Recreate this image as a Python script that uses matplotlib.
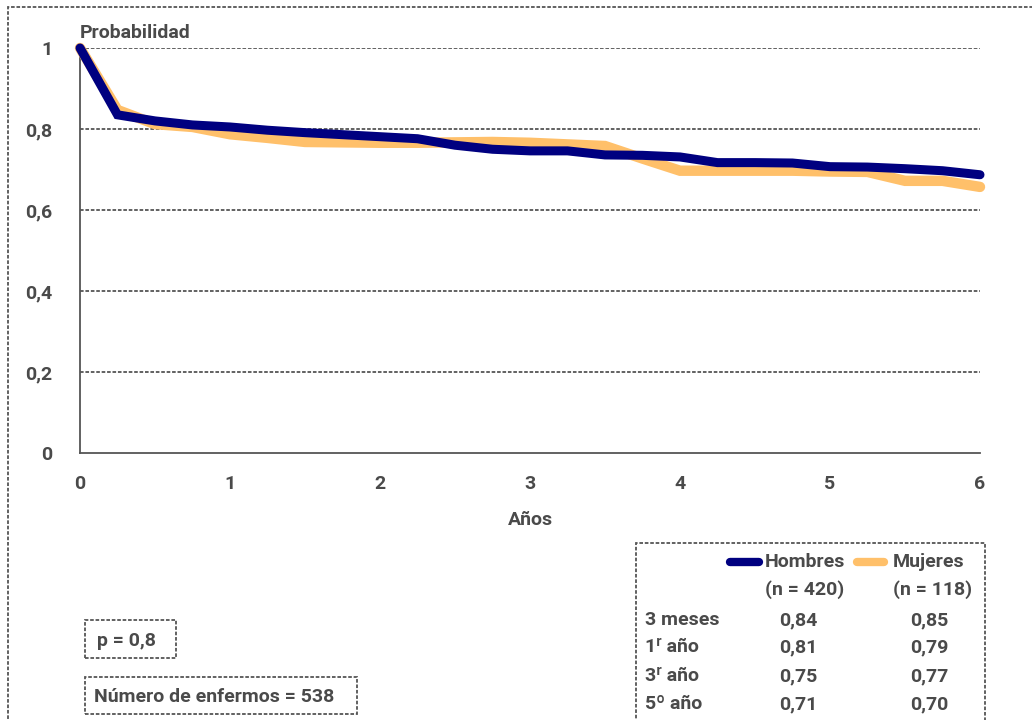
import matplotlib
matplotlib.use('Agg')
import matplotlib.pyplot as plt
from matplotlib.patches import Rectangle

# datos (cada trimestre)
anios = [0, 0.25, 0.5, 0.75, 1, 1.25, 1.5, 1.75, 2, 2.25, 2.5, 2.75, 3,
         3.25, 3.5, 3.75, 4, 4.25, 4.5, 4.75, 5, 5.25, 5.5, 5.75, 6]
hombres = [1.0, 0.835, 0.82, 0.81, 0.805, 0.797, 0.791, 0.786, 0.781, 0.776,
           0.76, 0.75, 0.746, 0.746, 0.736, 0.735, 0.731, 0.717, 0.717, 0.716,
           0.707, 0.706, 0.702, 0.697, 0.687]
mujeres = [1.0, 0.847, 0.812, 0.805, 0.787, 0.778, 0.768, 0.767, 0.766, 0.766,
           0.767, 0.768, 0.766, 0.762, 0.758, 0.727, 0.697, 0.697, 0.697, 0.697,
           0.695, 0.694, 0.672, 0.672, 0.657]

filas = ['3 meses', '1ʳ año', '3ʳ año', '5º año']
tabla_hombres = ['0,84', '0,81', '0,75', '0,71']
tabla_mujeres = ['0,85', '0,79', '0,77', '0,70']

y_ticks = [0, 0.2, 0.4, 0.6, 0.8, 1]
y_labels = ['0', '0,2', '0,4', '0,6', '0,8', '1']
x_ticks = [0, 1, 2, 3, 4, 5, 6]

NAVY = '#000080'
NARANJA = '#ffc06a'
GRIS = '#4a4a4a'
PUNTOS = (0, (2, 1))
FS = 14

plt.rcParams['font.family'] = ['Roboto', 'DejaVu Sans']
plt.rcParams['font.weight'] = 'bold'

W, H = 1032, 720
fig = plt.figure(figsize=(W / 100, H / 100), dpi=100)
fig.patch.set_facecolor('white')

# marco punteado de la figura
fig.patches.append(Rectangle((8 / W, -0.5), 2, 1.5 - 7 / H, transform=fig.transFigure,
                             fill=False, edgecolor='#555555', linewidth=1.3, linestyle=PUNTOS))

ax = fig.add_axes([80 / W, 1 - 453 / H, 900 / W, 405 / H])
ax.set_xlim(0, 6)
ax.set_ylim(0, 1)

for y in y_ticks[1:]:
    ax.axhline(y, color='#555555', linewidth=1.3, linestyle=PUNTOS, zorder=1)

ax.plot(anios, mujeres, color=NARANJA, linewidth=7.5, solid_capstyle='round',
        solid_joinstyle='miter', zorder=3, clip_on=False)
ax.plot(anios, hombres, color=NAVY, linewidth=6.5, solid_capstyle='round',
        solid_joinstyle='miter', zorder=4, clip_on=False)

for s in ['top', 'right']:
    ax.spines[s].set_visible(False)
for s in ['left', 'bottom']:
    ax.spines[s].set_linestyle(PUNTOS)
    ax.spines[s].set_color('#555555')
    ax.spines[s].set_linewidth(1.3)

ax.set_yticks(y_ticks)
ax.set_yticklabels(y_labels)
ax.set_xticks(x_ticks)
ax.tick_params(length=0, labelsize=FS, colors=GRIS)
ax.tick_params(axis='y', pad=20)
ax.tick_params(axis='x', pad=16)

fig.text(80 / W, 1 - 33 / H, 'Probabilidad', fontsize=FS, color=GRIS, va='center', ha='left')
fig.text(530 / W, 1 - 520 / H, 'Años', fontsize=FS, color=GRIS, va='center', ha='center')

# cuadro con la tabla y la leyenda
fig.patches.append(Rectangle((636 / W, -0.2), 349 / W, 0.2 + 177 / H, transform=fig.transFigure,
                             fill=False, edgecolor='#555555', linewidth=1.3, linestyle=PUNTOS))
fig.add_artist(plt.Line2D([730 / W, 759 / W], [1 - 562 / H] * 2, color=NAVY, linewidth=6,
                          solid_capstyle='round', transform=fig.transFigure))
fig.add_artist(plt.Line2D([857 / W, 884 / W], [1 - 562 / H] * 2, color=NARANJA, linewidth=6,
                          solid_capstyle='round', transform=fig.transFigure))
fig.text(765 / W, 1 - 562 / H, 'Hombres', fontsize=FS, color=GRIS, va='center')
fig.text(893 / W, 1 - 562 / H, 'Mujeres', fontsize=FS, color=GRIS, va='center')
fig.text(765 / W, 1 - 590 / H, '(n = 420)', fontsize=FS, color=GRIS, va='center')
fig.text(893 / W, 1 - 590 / H, '(n = 118)', fontsize=FS, color=GRIS, va='center')

filas_y = [620, 647, 676, 704]
for nombre, vh, vm, yy in zip(filas, tabla_hombres, tabla_mujeres, filas_y):
    fig.text(645 / W, 1 - yy / H, nombre, fontsize=FS, color=GRIS, va='center')
    fig.text(779 / W, 1 - yy / H, vh, fontsize=FS, color=GRIS, va='center')
    fig.text(910 / W, 1 - yy / H, vm, fontsize=FS, color=GRIS, va='center')

# cuadros de texto inferiores
fig.patches.append(Rectangle((85 / W, 1 - 658 / H), 91 / W, 38 / H, transform=fig.transFigure,
                             fill=False, edgecolor='#555555', linewidth=1.3, linestyle=PUNTOS))
fig.text(97 / W, 1 - 641 / H, 'p = 0,8', fontsize=FS, color=GRIS, va='center')
fig.patches.append(Rectangle((85 / W, 1 - 714 / H), 272 / W, 37 / H, transform=fig.transFigure,
                             fill=False, edgecolor='#555555', linewidth=1.3, linestyle=PUNTOS))
fig.text(94 / W, 1 - 697 / H, 'Número de enfermos = 538', fontsize=FS, color=GRIS, va='center')

plt.savefig('out.png', dpi=100, facecolor='white')
plt.close()
